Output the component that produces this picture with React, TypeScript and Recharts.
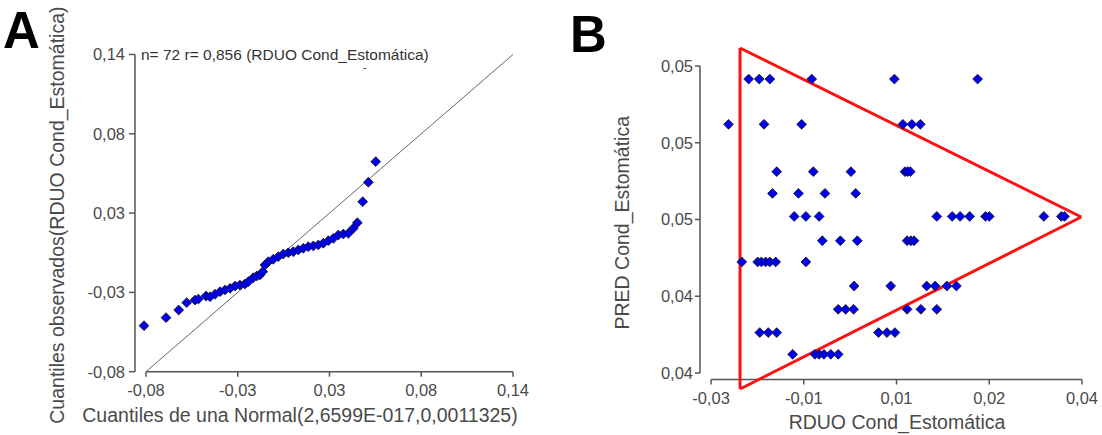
import React from 'react';
import { ScatterChart, Scatter, XAxis, YAxis, ReferenceLine } from 'recharts';

// Panel A: Q-Q plot de los residuos
const cuantilesNormal = [
  -0.0812, -0.068, -0.0604, -0.0556, -0.0506, -0.0486, -0.044, -0.0416, -0.0386, -0.0356,
  -0.0326, -0.0296, -0.0266, -0.0237, -0.0207, -0.0187, -0.0157, -0.0136, -0.0117, -0.01,
  -0.0087, -0.0067, -0.0037, -0.0007, 0.0023, 0.0053, 0.0083, 0.0113, 0.0143, 0.0173,
  0.0203, 0.0233, 0.0263, 0.0293, 0.0323, 0.0353, 0.0383, 0.0413, 0.0443, 0.0467,
  0.0499, 0.0533, 0.0577,
];
const cuantilesObservados = [
  -0.0481, -0.0425, -0.0372, -0.0321, -0.0303, -0.0296, -0.0275, -0.028, -0.0263, -0.0245,
  -0.0233, -0.0222, -0.0206, -0.0199, -0.0192, -0.0176, -0.0148, -0.0136, -0.0129, -0.0106,
  -0.006, -0.0037, -0.002, -0.0002, 0.0016, 0.0025, 0.0032, 0.0044, 0.0056, 0.0067,
  0.0072, 0.0079, 0.0091, 0.0109, 0.0125, 0.0148, 0.0155, 0.016, 0.0195, 0.0233,
  0.0379, 0.0514, 0.0657,
];
const ticksA = [-0.08, -0.025, 0.03, 0.085, 0.14];
const etiquetasA = ['-0,08', '-0,03', '0,03', '0,08', '0,14'];

// Panel B: PRED vs RDUO
const rduoB = [
  -0.0229, -0.0209, -0.0189, -0.011, 0.0046, 0.0203,
  -0.0267, -0.02, -0.0129, 0.0062, 0.0079, 0.0095,
  -0.0176, -0.0107, -0.0036, 0.0066, 0.0071, 0.0076,
  -0.0184, -0.0135, -0.0085, -0.0027,
  -0.0143, -0.0121, -0.0096, 0.0126, 0.0155, 0.017, 0.0188, 0.0218, 0.0225, 0.0328, 0.0361, 0.0367,
  -0.009, -0.0056, -0.0024, 0.007, 0.0077, 0.0083,
  -0.0242, -0.0212, -0.0205, -0.0197, -0.0189, -0.0178, -0.0121,
  -0.003, 0.0039, 0.0107, 0.0123, 0.0145, 0.0163,
  -0.006, -0.0046, -0.0031, 0.007, 0.0096, 0.0126,
  -0.0208, -0.0192, -0.0176, 0.0016, 0.0032, 0.0047,
  -0.0146, -0.0104, -0.0096, -0.0087, -0.0074, -0.006,
];
const predB = [
  0.05349, 0.05349, 0.05349, 0.05349, 0.05349, 0.05349,
  0.05172, 0.05172, 0.05172, 0.05172, 0.05172, 0.05172,
  0.04987, 0.04987, 0.04987, 0.04987, 0.04987, 0.04987,
  0.04902, 0.04902, 0.04902, 0.04902,
  0.04812, 0.04812, 0.04812, 0.04812, 0.04812, 0.04812, 0.04812, 0.04812, 0.04812, 0.04812, 0.04812, 0.04812,
  0.04717, 0.04717, 0.04717, 0.04717, 0.04717, 0.04717,
  0.04634, 0.04634, 0.04634, 0.04634, 0.04634, 0.04634, 0.04634,
  0.0454, 0.0454, 0.0454, 0.0454, 0.0454, 0.0454,
  0.04449, 0.04449, 0.04449, 0.04449, 0.04449, 0.04449,
  0.04358, 0.04358, 0.04358, 0.04358, 0.04358, 0.04358,
  0.04273, 0.04273, 0.04273, 0.04273, 0.04273, 0.04273,
];
const ticksBX = [-0.03, -0.0125, 0.005, 0.0225, 0.04];
const etiquetasBX = ['-0,03', '-0,01', '0,01', '0,02', '0,04'];
const ticksBY = [0.042, 0.045, 0.048, 0.051, 0.054];
const etiquetasBY = ['0,04', '0,04', '0,05', '0,05', '0,05'];
// vértices del triángulo rojo
const trianguloX = [-0.02452, -0.02452, 0.03987];
const trianguloY = [0.054704, 0.041375, 0.048098];

const font = '"Liberation Sans", Arial, sans-serif';
const axisColor = '#555';
const tickStyle = { fontSize: 16.5, fill: '#4a4a4a', fontFamily: font };
const titleStyle = { fontSize: 19.5, fill: '#4a4a4a', fontFamily: font };

const Diamond = (props: any) => {
  const { cx, cy } = props;
  if (cx == null || cy == null) return null;
  const r = 4.9;
  return (
    <polygon
      points={`${cx},${cy - r} ${cx + r},${cy} ${cx},${cy + r} ${cx - r},${cy}`}
      fill="#0000f0"
      stroke="#111"
      strokeWidth={0.8}
    />
  );
};

const dataA = cuantilesNormal.map((x, i) => ({ x, y: cuantilesObservados[i] }));
const dataB = rduoB.map((x, i) => ({ x, y: predB[i] }));

const padAX = 0.08 + (11 / 367) * 0.22;
const minBX = -0.03208;
const minBY = 0.041746;

export default function App() {
  const tri = trianguloX.map((x, i) => ({ x, y: trianguloY[i] }));
  return (
    <div style={{ position: 'absolute', left: 0, top: 0, width: 1102, height: 435, background: '#fff', fontFamily: font }}>
      <div style={{ position: 'absolute', left: 3, top: 3, fontSize: 51, fontWeight: 'bold', lineHeight: '56px' }}>A</div>
      <div style={{ position: 'absolute', left: 570, top: 7, fontSize: 51, fontWeight: 'bold', lineHeight: '56px' }}>B</div>

      <div style={{ position: 'absolute', left: 0, top: 0 }}>
        <ScatterChart width={550} height={435} margin={{ top: 54.5, right: 37, bottom: 0, left: 0 }}>
          <XAxis
            type="number"
            dataKey="x"
            domain={[-padAX, 0.14]}
            ticks={ticksA}
            interval={0}
            allowDataOverflow
            height={63.3}
            axisLine={false}
            tickLine={{ stroke: axisColor, strokeWidth: 1.5 }}
            tickSize={5}
            tickMargin={8}
            tick={tickStyle}
            tickFormatter={(v: number, i: number) => etiquetasA[i]}
            label={{
              value: 'Cuantiles de una Normal(2,6599E-017,0,0011325)',
              position: 'insideBottom',
              offset: 13,
              dx: -24,
              style: titleStyle,
            }}
          />
          <YAxis
            type="number"
            dataKey="y"
            domain={[-0.08, 0.14]}
            ticks={ticksA}
            interval={0}
            allowDataOverflow
            width={135}
            axisLine={{ stroke: axisColor, strokeWidth: 1.5 }}
            tickLine={{ stroke: axisColor, strokeWidth: 1.5 }}
            tickSize={6}
            tickMargin={4}
            tick={tickStyle}
            tickFormatter={(v: number, i: number) => etiquetasA[i]}
            label={{
              value: 'Cuantiles observados(RDUO Cond_Estomática)',
              angle: -90,
              position: 'insideLeft',
              offset: 57,
              dy: 2,
              style: { ...titleStyle, textAnchor: 'middle' },
            }}
          />
          <ReferenceLine
            segment={[{ x: -0.08, y: -0.08 }, { x: 0.14, y: -0.08 }]}
            stroke={axisColor}
            strokeWidth={1.5}
            ifOverflow="visible"
          />
          <ReferenceLine
            segment={[{ x: -0.08, y: -0.08 }, { x: 0.14, y: 0.14 }]}
            stroke="#666"
            strokeWidth={1}
            ifOverflow="visible"
          />
          <Scatter data={dataA} shape={<Diamond />} isAnimationActive={false} />
        </ScatterChart>
      </div>
      <div style={{ position: 'absolute', left: 141, top: 46, fontSize: 15.5, color: '#333', whiteSpace: 'nowrap' }}>
        n= 72 r= 0,856 (RDUO Cond_Estomática)
      </div>
      <div style={{ position: 'absolute', left: 363, top: 62, fontSize: 10, color: '#333' }}>-</div>

      <div style={{ position: 'absolute', left: 550, top: 0 }}>
        <ScatterChart width={552} height={435} margin={{ top: 66, right: 20, bottom: 0, left: 0 }}>
          <XAxis
            type="number"
            dataKey="x"
            domain={[minBX, 0.04]}
            ticks={ticksBX}
            interval={0}
            allowDataOverflow
            height={55.5}
            axisLine={false}
            tickLine={{ stroke: axisColor, strokeWidth: 1.5 }}
            tickSize={5}
            tickMargin={8}
            tick={tickStyle}
            tickFormatter={(v: number, i: number) => etiquetasBX[i]}
            label={{
              value: 'RDUO Cond_Estomática',
              position: 'insideBottom',
              offset: 6,
              dx: 6,
              style: titleStyle,
            }}
          />
          <YAxis
            type="number"
            dataKey="y"
            domain={[minBY, 0.054]}
            ticks={ticksBY}
            interval={0}
            allowDataOverflow
            width={150}
            axisLine={false}
            tickLine={{ stroke: axisColor, strokeWidth: 1.5 }}
            tickSize={5}
            tickMargin={2}
            tick={tickStyle}
            tickFormatter={(v: number, i: number) => etiquetasBY[i]}
            label={{
              value: 'PRED Cond_Estomática',
              angle: -90,
              position: 'insideLeft',
              offset: 72,
              style: { ...titleStyle, textAnchor: 'middle' },
            }}
          />
          <ReferenceLine
            segment={[{ x: -0.03, y: minBY }, { x: 0.04, y: minBY }]}
            stroke={axisColor}
            strokeWidth={1.5}
            ifOverflow="visible"
          />
          <ReferenceLine
            segment={[{ x: minBX, y: 0.042 }, { x: minBX, y: 0.054 }]}
            stroke={axisColor}
            strokeWidth={1.5}
            ifOverflow="visible"
          />
          <ReferenceLine segment={[tri[0], tri[1]]} stroke="#ff1010" strokeWidth={3} ifOverflow="visible" />
          <ReferenceLine segment={[tri[1], tri[2]]} stroke="#ff1010" strokeWidth={3} ifOverflow="visible" />
          <ReferenceLine segment={[tri[2], tri[0]]} stroke="#ff1010" strokeWidth={3} ifOverflow="visible" />
          <Scatter data={dataB} shape={<Diamond />} isAnimationActive={false} />
        </ScatterChart>
      </div>
    </div>
  );
}
